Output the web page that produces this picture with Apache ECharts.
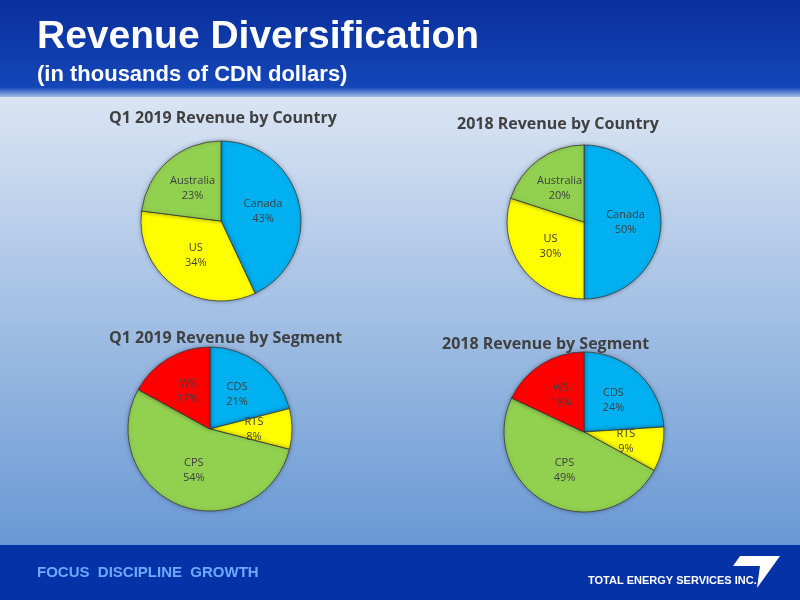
<!DOCTYPE html>
<html><head><meta charset="utf-8">
<script src="https://cdn.jsdelivr.net/npm/echarts@6/dist/echarts.min.js"></script>
<style>html,body{margin:0;padding:0}#main{width:800px;height:600px}</style>
</head><body><div id="main"></div>
<script>
var countries = ['Canada', 'US', 'Australia'];
var countryQ1 = [43, 34, 23];
var country2018 = [50, 30, 20];
var segments = ['CDS', 'RTS', 'CPS', 'WS'];
var segmentQ1 = [21, 8, 54, 17];
var segment2018 = [24, 9, 49, 18];
var countryColors = ['#00b0f0', '#ffff00', '#92d050'];
var segmentColors = ['#00b0f0', '#ffff00', '#92d050', '#ff0000'];

var chart = echarts.init(document.getElementById('main'));

function pieSeries(names, values, colors, center, radius) {
    return {
        type: 'pie',
        center: center,
        radius: radius,
        startAngle: 90,
        clockwise: true,
        data: names.map(function (n, i) {
            return { name: n, value: values[i], itemStyle: { color: colors[i] } };
        }),
        itemStyle: { borderColor: '#3a3a3a', borderWidth: 0.8, shadowBlur: 4, shadowColor: 'rgba(0,0,0,0.3)' },
        label: {
            position: 'inner',
            formatter: function (p) { return p.name + '\n' + p.value + '%'; },
            color: '#404040',
            fontFamily: 'Open Sans',
            fontSize: 11,
            lineHeight: 15
        },
        labelLine: { show: false },
        emphasis: { disabled: true }
    };
}

function title(text, x, y) {
    return { text: text, left: x, top: y, textStyle: { fontFamily: 'Open Sans', fontSize: 16, fontWeight: 'bold', color: '#404040' } };
}

chart.setOption({
    animation: false,
    graphic: [
        { type: 'rect', z: -10, shape: { x: 0, y: 0, width: 800, height: 600 },
          style: { fill: new echarts.graphic.LinearGradient(0, 0, 0, 1, [{ offset: 0, color: '#f2f5fa' }, { offset: 1, color: '#5b8fd0' }]) } },
        { type: 'rect', z: -5, shape: { x: 0, y: 0, width: 800, height: 97 },
          style: { fill: new echarts.graphic.LinearGradient(0, 0, 0, 1, [{ offset: 0, color: '#0a2f9c' }, { offset: 0.9, color: '#1446b8' }, { offset: 1, color: '#a0bce6' }]) } },
        { type: 'text', left: 37, top: 18, style: { text: 'Revenue Diversification', fill: '#fff', font: 'bold 39px "Liberation Sans"' } },
        { type: 'text', left: 37, top: 64, style: { text: '(in thousands of CDN dollars)', fill: '#fff', font: 'bold 22px "Liberation Sans"' } },
        { type: 'rect', z: -5, shape: { x: 0, y: 545, width: 800, height: 55 }, style: { fill: '#0632a8' } },
        { type: 'text', left: 37, top: 565, style: { text: 'FOCUS  DISCIPLINE  GROWTH', fill: '#6fa8ff', font: 'bold 15px "Liberation Sans"' } },
        { type: 'text', left: 588, top: 575, style: { text: 'TOTAL ENERGY SERVICES INC.', fill: '#fff', font: 'bold 11px "Liberation Sans"' } },
        { type: 'polygon', shape: { points: [[740, 556], [780, 556], [757, 588], [760, 566], [733, 566]] }, style: { fill: '#fff' } }
    ],
    title: [
        title('Q1 2019 Revenue by Country', 104, 105),
        title('2018 Revenue by Country', 452, 111),
        title('Q1 2019 Revenue by Segment', 104, 325),
        title('2018 Revenue by Segment', 437, 331)
    ],
    series: [
        pieSeries(countries, countryQ1, countryColors, [221, 221], 80),
        pieSeries(countries, country2018, countryColors, [584, 222], 77),
        pieSeries(segments, segmentQ1, segmentColors, [210, 429], 82),
        pieSeries(segments, segment2018, segmentColors, [584, 432], 80)
    ]
});
</script></body></html>
